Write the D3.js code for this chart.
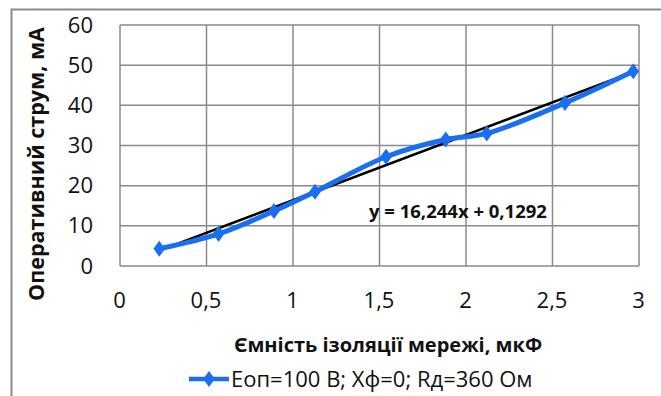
<!DOCTYPE html>
<html>
  <head>
    <script src="https://d3js.org/d3.v7.min.js"></script>
    <style>
      body { margin: 0; background: #fff; }
      text { font-family: "Open Sans", sans-serif; fill: #111; }
      .axis-title { font-weight: bold; }
      .legend text { font-size: 22px; }
      .eq { font-size: 18.5px; font-weight: bold; }
    </style>
  </head>
  <body>
    <svg width="661" height="396"></svg>
    <script>
      const capacitance = [0.227, 0.57, 0.89, 1.127, 1.538, 1.883, 2.12, 2.572, 2.967];
      const current = [4.3, 8, 13.7, 18.5, 27.2, 31.5, 33, 40.6, 48.5];
      const xTicks = [0, 0.5, 1, 1.5, 2, 2.5, 3];
      const yTicks = [0, 10, 20, 30, 40, 50, 60];
      const slope = 16.244;
      const intercept = 0.1292;
      const seriesName = "Еоп=100 В; Хф=0; Rд=360 Ом";
      const equation = "y = 16,244x + 0,1292";

      const svg = d3.select("svg");
      const plotLeft = 120, plotRight = 639, plotTop = 25, plotBottom = 266;
      const blue = "#1a6ff0";

      const x = d3.scaleLinear().domain([0, 3]).range([plotLeft, plotRight]);
      const y = d3.scaleLinear().domain([0, 60]).range([plotBottom, plotTop]);
      const fmt = d => String(d).replace(".", ",");

      // outer chart border (only left and top visible)
      svg.append("path")
        .attr("d", "M11.5,396 V9.5 H661")
        .attr("fill", "none")
        .attr("stroke", "#8c8c8c")
        .attr("stroke-width", 2);

      // grid
      svg.append("g")
        .selectAll("line")
        .data(xTicks)
        .join("line")
          .attr("x1", d => x(d)).attr("x2", d => x(d))
          .attr("y1", plotTop).attr("y2", plotBottom)
          .attr("stroke", "#8a8a8a").attr("stroke-width", 1.5);
      svg.append("g")
        .selectAll("line")
        .data(yTicks)
        .join("line")
          .attr("x1", plotLeft).attr("x2", plotRight)
          .attr("y1", d => y(d)).attr("y2", d => y(d))
          .attr("stroke", "#8a8a8a").attr("stroke-width", 1.5);

      // axes labels
      const yAxis = svg.append("g")
        .attr("transform", `translate(${plotLeft - 27},0)`)
        .call(d3.axisLeft(y).tickValues(yTicks).tickSize(0).tickPadding(0).tickFormat(fmt));
      yAxis.select(".domain").remove();

      const xAxis = svg.append("g")
        .attr("transform", `translate(0,${plotBottom + 26})`)
        .call(d3.axisBottom(x).tickValues(xTicks).tickSize(0).tickPadding(0).tickFormat(fmt));
      xAxis.select(".domain").remove();
      xAxis.selectAll(".tick text").attr("dx", -1);

      svg.selectAll(".tick text")
        .style("font-family", "'Open Sans', sans-serif")
        .style("font-size", "22px")
        .attr("fill", "#111");

      // trend line
      const trendX = d3.extent(capacitance);
      svg.append("line")
        .attr("x1", x(trendX[0])).attr("y1", y(slope * trendX[0] + intercept))
        .attr("x2", x(trendX[1])).attr("y2", y(slope * trendX[1] + intercept))
        .attr("stroke", "#000").attr("stroke-width", 2.5);

      // data series
      const points = capacitance.map((c, i) => [c, current[i]]);
      svg.append("path")
        .datum(points)
        .attr("fill", "none")
        .attr("stroke", blue)
        .attr("stroke-width", 5)
        .attr("d", d3.line().x(d => x(d[0])).y(d => y(d[1])).curve(d3.curveCatmullRom.alpha(0.5)));

      const diamond = d3.symbol().type(d3.symbolDiamond).size(75);
      svg.append("g")
        .selectAll("path")
        .data(points)
        .join("path")
          .attr("transform", d => `translate(${x(d[0])},${y(d[1])}) scale(1.25,1)`)
          .attr("d", diamond)
          .attr("fill", blue);

      svg.append("text")
        .attr("class", "eq")
        .attr("x", 369).attr("y", 218)
        .text(equation);

      // axis titles
      svg.append("text")
        .attr("class", "axis-title")
        .attr("text-anchor", "middle")
        .attr("x", 388).attr("y", 352)
        .style("font-size", "20px")
        .text("Ємність ізоляції мережі, мкФ");

      svg.append("text")
        .attr("class", "axis-title")
        .attr("text-anchor", "middle")
        .attr("transform", "translate(44,164) rotate(-90)")
        .style("font-size", "21.5px")
        .text("Оперативний струм, мА");

      // legend
      const legendG = svg.append("g")
        .attr("class", "legend")
        .attr("transform", "translate(189,379)");
      legendG.append("line")
        .attr("x1", 0).attr("x2", 40)
        .attr("stroke", blue).attr("stroke-width", 4.5);
      legendG.append("path")
        .attr("transform", "translate(20,0) scale(1.25,1)")
        .attr("d", diamond)
        .attr("fill", blue);
      legendG.append("text")
        .attr("x", 42).attr("dy", "0.35em")
        .text(seriesName);
    </script>
  </body>
</html>
